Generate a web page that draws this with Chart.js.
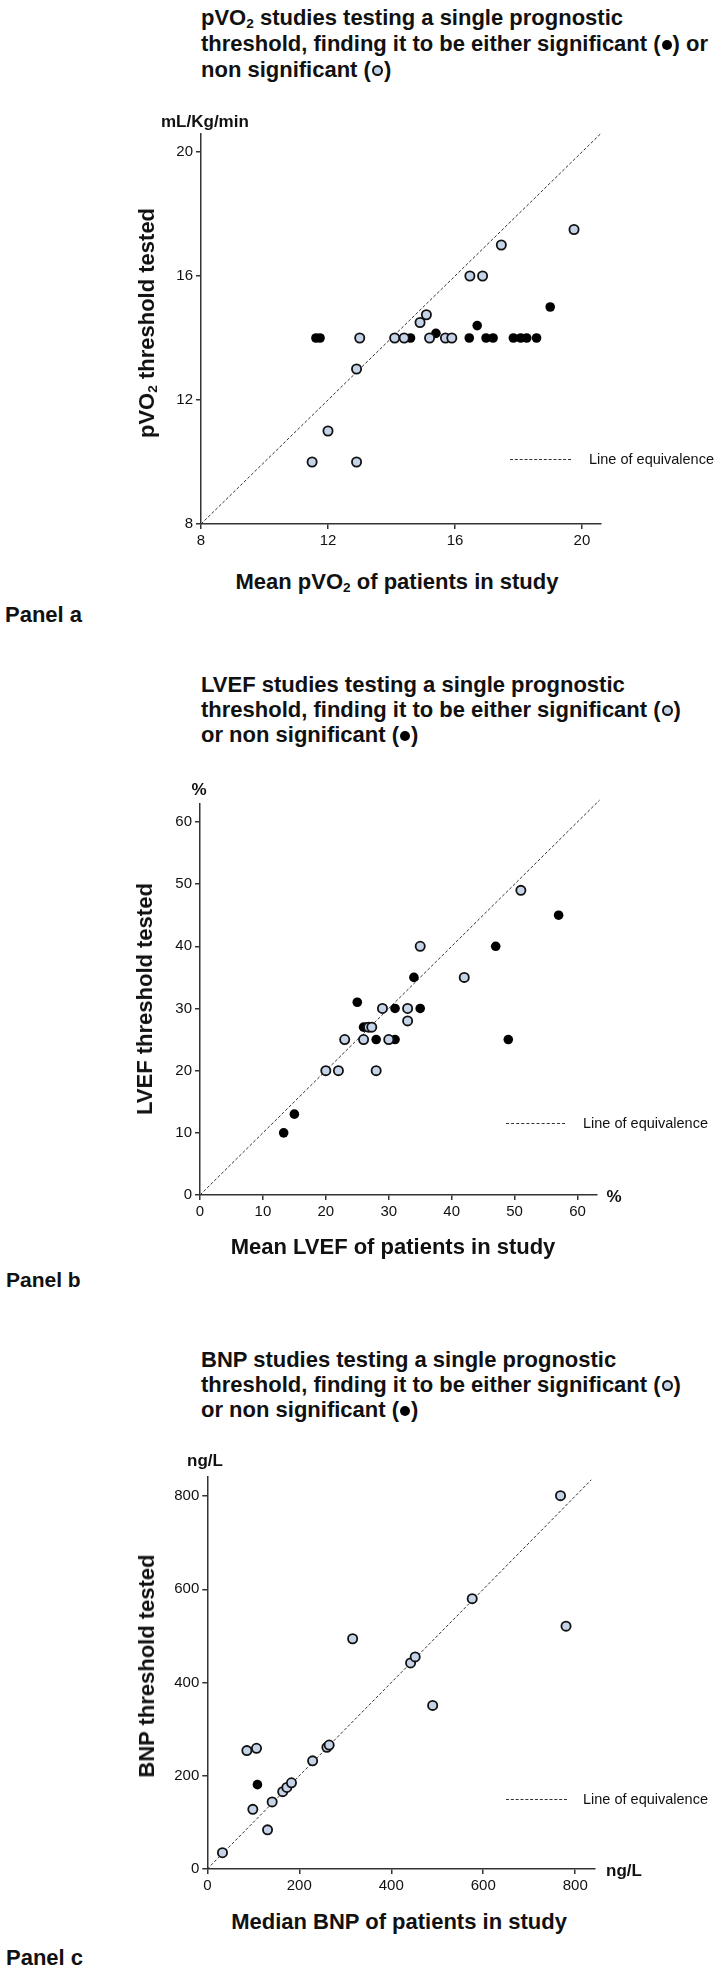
<!DOCTYPE html>
<html>
<head>
<meta charset="utf-8">
<script src="https://cdn.jsdelivr.net/npm/chart.js@4.4.1/dist/chart.umd.min.js"></script>
<style>
  body { margin: 0; background: #fff; }
  #page { position: relative; width: 716px; height: 1970px; overflow: hidden;
          font-family: "Liberation Sans", Arial, sans-serif; color: #111; }
  canvas { position: absolute; left: 0; }
  .title { position: absolute; left: 201px; font-size: 22px; font-weight: bold; white-space: nowrap; }
  .c { position: absolute; transform: translate(-50%, -50%); white-space: nowrap; font-weight: bold; }
  .l { position: absolute; transform: translateY(-50%); white-space: nowrap; }
  .ylab { position: absolute; transform: translate(-50%, -50%) rotate(-90deg); white-space: nowrap;
          font-weight: bold; font-size: 22px; }
  .dot { display: inline-block; width: 10px; height: 10px; border-radius: 50%; background: #000;
         vertical-align: 1px; margin: 0 1px; }
  .ring { display: inline-block; width: 7px; height: 7px; border: 2px solid #111; border-radius: 50%;
          background: #c5d4e8; vertical-align: 1px; margin: 0 1px; }
  .dash { position: absolute; height: 0; border-top: 1px dashed #333; }
  .leg { font-size: 14.5px; }
  sub { font-size: 0.62em; vertical-align: -0.25em; line-height: 0; }
</style>
</head>
<body>
<div id="page">
  <canvas id="chartA"></canvas>
  <canvas id="chartB"></canvas>
  <canvas id="chartC"></canvas>

  <!-- Panel a -->
  <div class="title" style="top:5px; line-height:26px;">pVO<sub>2</sub> studies testing a single prognostic<br>threshold, finding it to be either significant (<span class="dot"></span>) or<br>non significant (<span class="ring"></span>)</div>
  <div class="l" style="left:161px; top:122px; font-size:17px; font-weight:bold;">mL/Kg/min</div>
  <div class="ylab" style="left:147px; top:323px;">pVO<sub>2</sub> threshold tested</div>
  <div class="c" style="left:397px; top:582px; font-size:22px;">Mean pVO<sub>2</sub> of patients in study</div>
  <div class="l" style="left:5px; top:615px; font-size:22px; font-weight:bold;">Panel a</div>
  <div class="dash" style="left:510px; width:61px; top:459px;"></div>
  <div class="l leg" style="left:589px; top:459px;">Line of equivalence</div>

  <!-- Panel b -->
  <div class="title" style="top:672px; line-height:25px;">LVEF studies testing a single prognostic<br>threshold, finding it to be either significant (<span class="ring"></span>)<br>or non significant (<span class="dot"></span>)</div>
  <div class="c" style="left:199px; top:790px; font-size:17px;">%</div>
  <div class="ylab" style="left:145px; top:999px;">LVEF threshold tested</div>
  <div class="c" style="left:614px; top:1197px; font-size:17px;">%</div>
  <div class="c" style="left:393px; top:1247px; font-size:22px;">Mean LVEF of patients in study</div>
  <div class="l" style="left:6px; top:1280px; font-size:21px; font-weight:bold;">Panel b</div>
  <div class="dash" style="left:506px; width:59px; top:1123px;"></div>
  <div class="l leg" style="left:583px; top:1123px;">Line of equivalence</div>

  <!-- Panel c -->
  <div class="title" style="top:1347px; line-height:25px;">BNP studies testing a single prognostic<br>threshold, finding it to be either significant (<span class="ring"></span>)<br>or non significant (<span class="dot"></span>)</div>
  <div class="c" style="left:205px; top:1461px; font-size:17px;">ng/L</div>
  <div class="ylab" style="left:147px; top:1666px;">BNP threshold tested</div>
  <div class="c" style="left:624px; top:1871px; font-size:17px;">ng/L</div>
  <div class="c" style="left:399px; top:1922px; font-size:22px;">Median BNP of patients in study</div>
  <div class="l" style="left:6px; top:1958px; font-size:22px; font-weight:bold;">Panel c</div>
  <div class="dash" style="left:506px; width:61px; top:1799px;"></div>
  <div class="l leg" style="left:583px; top:1799px;">Line of equivalence</div>
</div>

<script>
// Panel a: pVO2 (mL/Kg/min)
const pvo2SigMean = [11.62, 11.75, 14.6, 15.4, 16.45, 16.7, 16.98, 17.2, 17.84, 18.07, 18.26, 18.57, 19.0];
const pvo2SigThreshold = [14, 14, 14, 14.15, 14, 14.4, 14, 14, 14, 14, 14, 14, 15];
const pvo2NonSigMean = [11.5, 12.9, 12.0, 12.9, 13.0, 14.1, 14.4, 14.9, 15.1, 15.2, 15.7, 15.9, 16.47, 16.87, 17.46, 19.75];
const pvo2NonSigThreshold = [10, 10, 11, 13, 14, 14, 14, 14.5, 14.75, 14, 14, 14, 16, 16, 17, 17.5];
const pvo2Ticks = [8, 12, 16, 20];

// Panel b: LVEF (%)
const lvefSigMean = [20, 22, 28, 23, 26, 30, 26.8, 27.3, 29, 33, 33, 35, 42, 51];
const lvefSigThreshold = [20, 20, 20, 25, 25, 25, 27, 27, 30, 30, 28, 40, 35, 49];
const lvefNonSigMean = [13.3, 15, 25, 26, 26.5, 28, 31, 31, 34, 35, 47, 49, 57];
const lvefNonSigThreshold = [10, 13, 31, 27, 27, 25, 25, 30, 35, 30, 40, 25, 45];
const lvefTicks = [0, 10, 20, 30, 40, 50, 60];

// Panel c: BNP (ng/L)
const bnpSigMedian = [33, 86, 107, 99, 131, 141, 164, 173, 183, 229, 260, 265, 316, 442, 452, 490, 576, 768, 780];
const bnpSigThreshold = [35, 254, 259, 128, 84, 144, 166, 175, 185, 232, 261, 266, 494, 442, 455, 351, 580, 801, 521];
const bnpNonSigMedian = [109];
const bnpNonSigThreshold = [181];
const bnpTicks = [0, 200, 400, 600, 800];

const FONT = '"Liberation Sans", Arial, sans-serif';
const LIGHT = '#c5d4e8';
const AXIS = '#333';

const pairs = (xs, ys) => xs.map((x, i) => ({ x: x, y: ys[i] }));

const lightSet = (xs, ys) => ({
    data: pairs(xs, ys),
    pointRadius: 4.6,
    pointBackgroundColor: LIGHT,
    pointBorderColor: '#111',
    pointBorderWidth: 1.8,
    clip: false
});

const darkSet = (xs, ys) => ({
    data: pairs(xs, ys),
    pointRadius: 4.8,
    pointBackgroundColor: '#000',
    pointBorderColor: '#000',
    pointBorderWidth: 0,
    clip: false
});

const equivSet = (from, to) => ({
    data: [{ x: from, y: from }, { x: to, y: to }],
    showLine: true,
    borderColor: '#333',
    borderWidth: 1,
    borderDash: [3, 2],
    pointRadius: 0,
    clip: false
});

const axis = (min, max, ticks, fit) => ({
    type: 'linear',
    min: min,
    max: max,
    afterFit: fit,
    afterBuildTicks: s => { s.ticks = ticks.map(v => ({ value: v })); },
    grid: { drawOnChartArea: false, drawTicks: true, tickLength: 5, color: AXIS, lineWidth: 1.5 },
    border: { display: true, color: AXIS, width: 1.5 },
    ticks: { color: '#111', font: { family: FONT, size: 15 }, padding: 3 }
});

// area = pixel box of the plot on the page
const drawPanel = (id, top, area, xRange, yRange, ticks, datasets) => {
    const cv = document.getElementById(id);
    cv.width = 716;
    cv.height = area.bottom - top + 40;
    cv.style.top = top + 'px';
    new Chart(cv, {
        type: 'scatter',
        data: { datasets: datasets },
        options: {
            responsive: false,
            animation: false,
            devicePixelRatio: 1,
            layout: { padding: { left: 0, right: 716 - area.right, top: area.top - top, bottom: 0 } },
            plugins: { legend: { display: false }, tooltip: { enabled: false } },
            scales: {
                x: axis(xRange[0], xRange[1], ticks, s => { s.height = 40; }),
                y: axis(yRange[0], yRange[1], ticks, s => { s.width = area.left; })
            }
        }
    });
};

// light (drawn on top) first, then black, then the dashed line underneath
drawPanel('chartA', 110, { left: 201, right: 601, top: 133.4, bottom: 524 }, [8, 20.6], [8, 20.6], pvo2Ticks, [
    lightSet(pvo2NonSigMean, pvo2NonSigThreshold),
    darkSet(pvo2SigMean, pvo2SigThreshold),
    equivSet(8, 20.6)
]);

drawPanel('chartB', 780, { left: 200, right: 597, top: 803.3, bottom: 1195 }, [0, 63.1], [0, 63], lvefTicks, [
    lightSet(lvefSigMean, lvefSigThreshold),
    darkSet(lvefNonSigMean, lvefNonSigThreshold),
    equivSet(0, 63.5)
]);

drawPanel('chartC', 1455, { left: 207.3, right: 595, top: 1477, bottom: 1869 }, [0, 843], [0, 841], bnpTicks, [
    lightSet(bnpSigMedian, bnpSigThreshold),
    darkSet(bnpNonSigMedian, bnpNonSigThreshold),
    equivSet(0, 835)
]);
</script>
</body>
</html>
